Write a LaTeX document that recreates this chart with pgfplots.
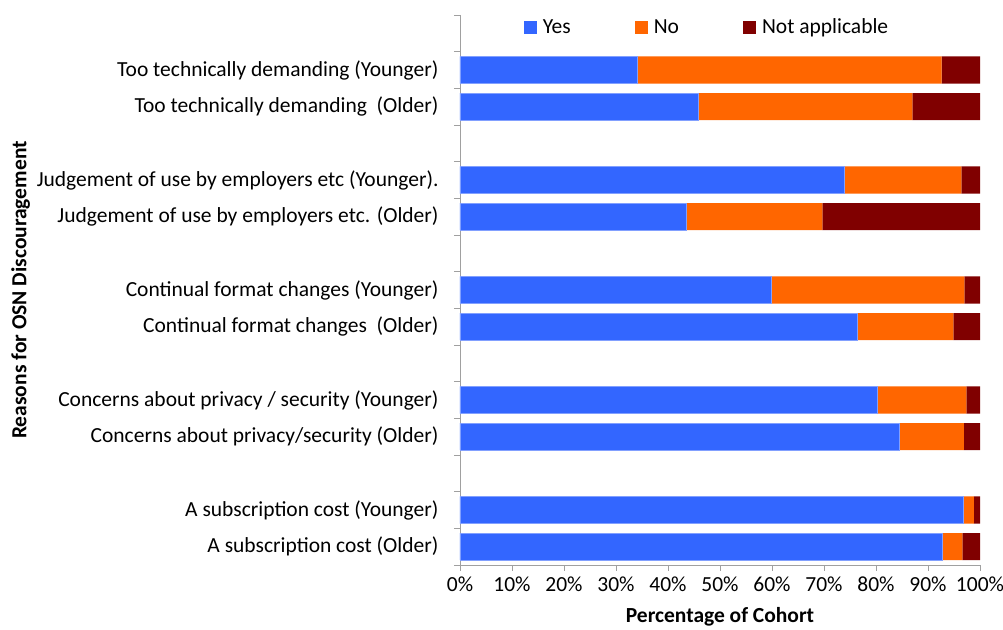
\documentclass[border=0pt]{standalone}
\usepackage{pgfplots}
\pgfplotsset{compat=1.18}
\usepackage{pgfplotstable}
\usepackage{fontspec}
\setmainfont{Carlito}
\usetikzlibrary{calc}
\definecolor{cyes}{RGB}{51,102,255}
\definecolor{cno}{RGB}{255,102,0}
\definecolor{cna}{RGB}{128,0,0}
\definecolor{axgray}{RGB}{160,160,160}
\pgfplotstableread{
y yes no na
2 34.0 58.6 7.4
3 45.8 41.2 13.0
5 73.9 22.5 3.6
6 43.5 26.2 30.3
8 59.8 37.2 3.0
9 76.4 18.5 5.1
11 80.2 17.2 2.6
12 84.5 12.4 3.1
14 96.8 2.0 1.2
15 92.8 3.8 3.4
}\datatable
\begin{document}
\begin{tikzpicture}
\begin{axis}[
  scale only axis,
  width=520pt, height=550pt,
  xbar stacked,
  bar width=0.74,
  xmin=0, xmax=100,
  ymin=0.5, ymax=15.5,
  y dir=reverse,
  axis x line*=bottom,
  axis y line*=left,
  axis line style={axgray, line width=0.8pt},
  tick align=outside,
  xtick={0,10,...,100},
  xticklabel={\pgfmathprintnumber{\tick}\%},
  /pgf/number format/assume math mode=true,
  major x tick style={axgray, line width=0.8pt},
  major tick length=6pt,
  ytick={2,3,5,6,8,9,11,12,14,15},
  yticklabels={
    Too technically demanding (Younger),
    Too technically demanding \ (Older),
    Judgement of use by employers etc (Younger).,
    Judgement of use by employers etc. (Older),
    Continual format changes (Younger),
    Continual format changes \ (Older),
    Concerns about privacy / security (Younger),
    Concerns about privacy/security (Older),
    A subscription cost (Younger),
    A subscription cost (Older)},
  major y tick style={draw=none},
  minor ytick={0.5,1.5,...,15.5},
  minor y tick style={draw=axgray, line width=0.8pt},
  minor tick length=6pt,
  ticklabel style={font=\fontsize{21.5}{25}\selectfont},
  yticklabel style={xshift=-12pt},
  xticklabel style={yshift=-2pt},
  xlabel={\textbf{Percentage of Cohort}},
  ylabel={\textbf{Reasons for OSN Discouragement}},
  label style={font=\fontsize{21.5}{25}\selectfont},
  xlabel style={yshift=-9pt},
  legend style={draw=none, fill=none, font=\fontsize{21.5}{25}\selectfont,
    at={(0.475,0.978)}, anchor=center, legend columns=3,
    /tikz/every odd column/.append style={column sep=4pt},
    /tikz/every even column/.append style={column sep=62pt}},
  legend image code/.code={\draw[#1,draw=none] (0pt,-6.5pt) rectangle (13pt,6.5pt);},
]
\addplot[fill=cyes, draw={rgb,255:red,130;green,160;blue,255}, line width=0.5pt] table[x=yes,y=y]{\datatable};
\addplot[fill=cno, draw=none] table[x=no,y=y]{\datatable};
\addplot[fill=cna, draw=none] table[x=na,y=y]{\datatable};
\legend{Yes,No,Not applicable}
\end{axis}
\pgfresetboundingbox
\path ($(current axis.south west)+(-460pt,-65pt)$) rectangle ($(current axis.north east)+(23pt,15pt)$);
\end{tikzpicture}
\end{document}
